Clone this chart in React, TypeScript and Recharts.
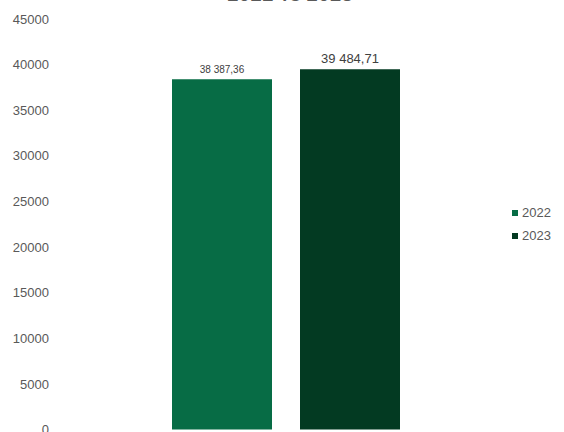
import React from 'react';
import { BarChart, Bar, XAxis, YAxis, Legend, LabelList } from 'recharts';

const categories = ['Total'];
const values2022 = [38387.36];
const values2023 = [39484.71];
const yTicks = [0, 5000, 10000, 15000, 20000, 25000, 30000, 35000, 40000, 45000];

const COLOR_2022 = '#076C45';
const COLOR_2023 = '#033A22';
const FONT = '"Liberation Sans", Arial, sans-serif';

const data = categories.map((name, i) => ({
  name,
  y2022: values2022[i],
  y2023: values2023[i],
}));

// 38387.36 -> "38 387,36"
const formatValue = (v: number) => {
  const [intPart, dec] = v.toFixed(2).split('.');
  return intPart.replace(/\B(?=(\d{3})+(?!\d))/g, ' ') + ',' + dec;
};

const legendItems = [
  { label: '2022', color: COLOR_2022 },
  { label: '2023', color: COLOR_2023 },
];

const renderLegend = () => (
  <div style={{ width: 52, fontFamily: FONT, fontSize: 13, color: '#595959' }}>
    {legendItems.map((item) => (
      <div key={item.label} style={{ height: 23, display: 'flex', alignItems: 'center' }}>
        <span style={{ width: 6, height: 6, background: item.color, marginRight: 4, display: 'inline-block' }} />
        <span>{item.label}</span>
      </div>
    ))}
  </div>
);

const App = () => {
  return (
    <div
      style={{
        position: 'absolute',
        top: 0,
        left: 0,
        width: 564,
        height: 432,
        overflow: 'hidden',
        background: '#FFFFFF',
        fontFamily: FONT,
      }}
    >
      {/* title sits mostly above the visible area, as in the cropped original */}
      <div
        style={{
          position: 'absolute',
          top: -17,
          left: 0,
          width: 580,
          textAlign: 'center',
          fontSize: 21,
          lineHeight: '21px',
          color: '#595959',
        }}
      >
        2022 vs 2023
      </div>
      <BarChart
        width={564}
        height={448}
        data={data}
        margin={{ top: 19, right: 0, left: 0, bottom: 18.5 }}
        barSize={100}
        barGap={28}
      >
        <XAxis dataKey="name" hide />
        <YAxis
          width={60}
          domain={[0, 45000]}
          ticks={yTicks}
          interval={0}
          axisLine={false}
          tickLine={false}
          tickSize={0}
          tickMargin={11}
          tick={{ fontSize: 13, fill: '#595959', fontFamily: FONT }}
        />
        <Legend layout="vertical" align="right" verticalAlign="middle" content={renderLegend} />
        <Bar dataKey="y2022" fill={COLOR_2022} isAnimationActive={false}>
          <LabelList
            dataKey="y2022"
            position="top"
            offset={6}
            formatter={(v: any) => formatValue(Number(v))}
            style={{ fontSize: 10, fill: '#404040', fontFamily: FONT }}
          />
        </Bar>
        <Bar dataKey="y2023" fill={COLOR_2023} isAnimationActive={false}>
          <LabelList
            dataKey="y2023"
            position="top"
            offset={6}
            formatter={(v: any) => formatValue(Number(v))}
            style={{ fontSize: 13, fill: '#404040', fontFamily: FONT }}
          />
        </Bar>
      </BarChart>
    </div>
  );
};

export default App;
